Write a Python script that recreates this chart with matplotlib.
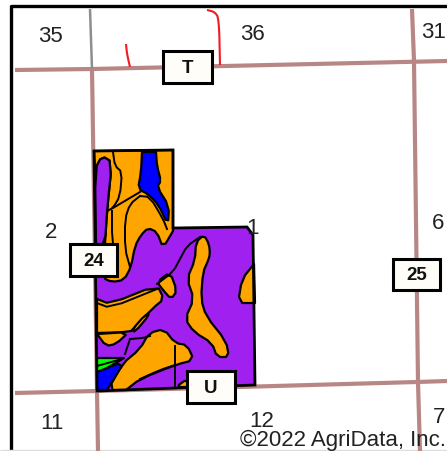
import matplotlib
matplotlib.use("Agg")
import matplotlib.pyplot as plt
from matplotlib.patches import Polygon, Rectangle

plt.rcParams['font.family'] = ['Liberation Sans', 'DejaVu Sans']

PURPLE = '#a020f0'
ORANGE = '#ffa500'
BLUE = '#0000ff'
GREEN = '#00ff00'
ROAD = '#b98686'

farm_outline = [(94,152),(173,151),(173,229),(247,228),(253,236),(255,386),(97,392)]
purple_strip = [(95,170),(102,157),(112,163),(107,212),(105,245),(96,245),(96,245)]
orange_upper = [(94,152),(94,152),(173,151),(173,151),(173,232),(173,232),(163,249),(157,233),(148,229),(141,236),(135,247),
                (131,268),(124,281),(112,283),(103,279),(105,245),(107,212),(112,163),(102,157),(95,170),(95,170)]
blue_upper = [(142,153),(142,153),(156,153),(156,153),(157,167),(161,182),(157,188),(169,207),(168,226),(158,205),
              (148,195),(138,190),(141,173)]
orange_band = [(97,300),(97,300),(110,305),(157,286),(164,300),(153,309),(134,329),(130,333),(97,334),(97,334)]
orange_finger = [(157,283),(170,273),(177,292),(171,300),(163,291)]
orange_sliver = [(132,331),(145,316),(150,315),(135,333)]
orange_lens = [(97,335),(97,335),(129,333),(116,345),(106,347)]
orange_lower = [(108,391),(122,365),(140,350),(149,334),(164,330),(175,344),(187,346),(194,361),
                (175,366),(140,380),(126,391),(126,391)]
orange_right = [(204,236),(209,245),(210,255),(208,262),(203,273),(201,300),(206,317),(226,342),(229,358),
                (217,358),(212,344),(194,333),(185,320),(194,300),(187,280),(195,261),(196,243)]
orange_edge = [(254,265),(254,265),(242,280),(238,304),(255,304),(255,304)]
orange_foot = [(176,388),(187,380),(188,388),(188,388)]
green_patch = [(97,359),(97,359),(124,359),(124,359),(102,372),(97,374),(97,374)]
blue_lower = [(97,373),(97,373),(125,362),(112,383),(107,391),(107,391),(97,391),(97,391)]
soil_polys = [(orange_upper, ORANGE), (purple_strip, PURPLE), (blue_upper, BLUE), (orange_band, ORANGE),
              (orange_finger, ORANGE), (orange_sliver, ORANGE), (orange_lens, ORANGE), (orange_lower, ORANGE),
              (orange_right, ORANGE), (orange_edge, ORANGE), (orange_foot, ORANGE), (green_patch, GREEN),
              (blue_lower, BLUE)]

soil_lines = [
    [(113,153),(115,167),(122,173),(120,197),(113,209),(107,212)],
    [(140,193),(113,209)],
    [(140,197),(130,205),(125,220),(125,250),(130,268)],
    [(140,197),(150,198),(163,220),(167,230)],
    [(112,212),(112,240),(117,270)],
    [(200,238),(187,247),(180,260),(173,273),(157,285)],
    [(97,304),(110,309),(157,290)],
    [(175,347),(175,387)],
    [(140,380),(160,371),(175,366)],
    [(130,340),(143,339),(150,337)],
    [(130,340),(125,355)],
    [(97,367),(122,360)],
]

road_h_top = [(15,71),(92,70),(447,62)]
road_h_bottom = [(15,394),(97,392),(417,383),(447,382)]
road_v_left = [(92,70),(97,392),(98,452)]
road_v_left_grey = [(90,10),(92,70)]
road_v_right = [(412,10),(414,62),(418,383),(420,452)]
red_lines = [[(126,45),(127,55),(130,68)], [(207,11),(215,13),(219,20),(220,66)]]

section_labels = ['35','36','31','2','1','6','11','12','7']
section_x = [50,252,434,51,253,438,52,262,439]
section_y = [37,35,33,233,229,224,424,422,418]

box_labels = ['T','24','25','U']
box_left = [163,70,393,187]
box_top = [52,245,260,372]
box_width = [49,47,47,48]
box_height = [32,32,31,32]


def smooth(pts, closed=True, rounds=1):
    """Corner-cut the hand-traced outline so it draws like a soil boundary."""
    for _ in range(rounds):
        out = []
        n = len(pts)
        last = n if closed else n - 1
        if not closed:
            out.append(pts[0])
        for i in range(last):
            a, b = pts[i], pts[(i + 1) % n]
            out.append((0.75*a[0]+0.25*b[0], 0.75*a[1]+0.25*b[1]))
            out.append((0.25*a[0]+0.75*b[0], 0.25*a[1]+0.75*b[1]))
        if not closed:
            out.append(pts[-1])
        pts = out
    return pts


fig = plt.figure(figsize=(4.47,4.52), dpi=100)
ax = fig.add_axes([0,0,1,1])
ax.set_xlim(0,447); ax.set_ylim(452,0); ax.axis('off')

def line(pts, **kw):
    ax.plot([p[0] for p in pts],[p[1] for p in pts], solid_capstyle='butt', **kw)

# frame
line([(11,452),(11,7),(447,7)], color='black', lw=2.4, zorder=1)
line([(0,451),(447,451)], color='#dddddd', lw=1, zorder=1)

# roads
for r in (road_h_top, road_h_bottom, road_v_left, road_v_right):
    line(r, color=ROAD, lw=3, zorder=2)
line(road_v_left_grey, color='#8e8e8e', lw=1.8, zorder=2)
for r in red_lines:
    line(smooth(r, closed=False, rounds=2), color='#ee1c25', lw=1.5, zorder=2)

# soil map
ax.add_patch(Polygon(farm_outline, closed=True, fc=PURPLE, ec='none', zorder=3))
for pts, c in soil_polys:
    ax.add_patch(Polygon(smooth(pts), closed=True, fc=c, ec='black', lw=1.6, joinstyle='round', zorder=4))
for l in soil_lines:
    s = smooth(l, closed=False)
    ax.plot([p[0] for p in s],[p[1] for p in s], color='black', lw=1.4, zorder=5)
ax.add_patch(Polygon(farm_outline, closed=True, fc='none', ec='black', lw=2, zorder=6))

# labels
for t,x,y in zip(section_labels, section_x, section_y):
    ax.text(x,y,t,ha='center',va='center',fontsize=16,color='#222222',zorder=7)
ax.text(446,440,'©2022 AgriData, Inc.',ha='right',va='center',fontsize=16,color='#222222',zorder=8)

for t,x,y,w,h in zip(box_labels, box_left, box_top, box_width, box_height):
    ax.add_patch(Rectangle((x,y),w,h,fc='#fffdf8',ec='black',lw=2.2,zorder=9))
    ax.text(x+w/2,y+h/2+0.5,t,ha='center',va='center',fontsize=13.5,fontweight='bold',color='#111111',zorder=10)

fig.savefig('out.png', dpi=100)
